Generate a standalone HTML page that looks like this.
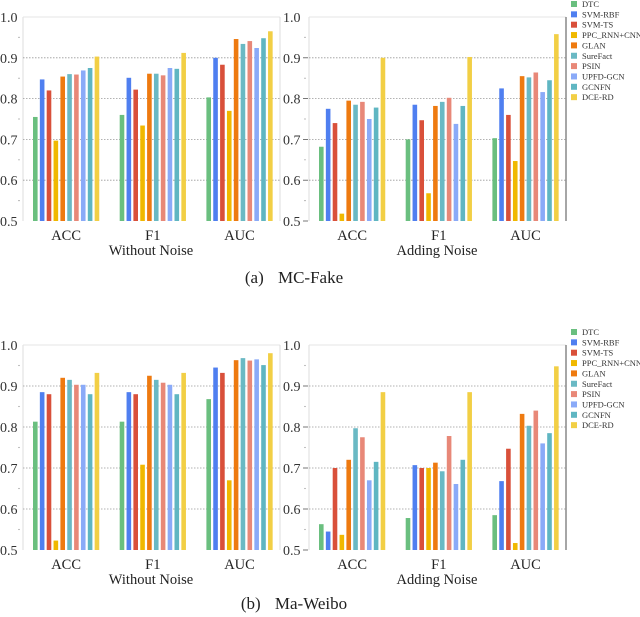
<!DOCTYPE html>
<html><head><meta charset="utf-8"><style>
html,body{margin:0;padding:0;background:#fff;}
svg{display:block;font-family:"Liberation Serif",serif;}
</style></head><body>
<svg id="fig" width="640" height="617" viewBox="0 0 640 617" xmlns="http://www.w3.org/2000/svg">
<text x="294" y="283" text-anchor="middle" font-size="17" word-spacing="10" fill="#222">(a) MC-Fake</text>
<text x="294" y="609" text-anchor="middle" font-size="17" word-spacing="10" fill="#222">(b) Ma-Weibo</text>
</svg>
<script>
const methods = ["DTC","SVM-RBF","SVM-TS","PPC_RNN+CNN","GLAN","SureFact","PSIN","UPFD-GCN","GCNFN","DCE-RD"];
const metrics = ["ACC","F1","AUC"];
const yTicks = ["0.5","0.6","0.7","0.8","0.9","1.0"];
const mcCleanACC = [.755,.847,.820,.697,.854,.860,.859,.869,.875,.903];
const mcCleanF1  = [.760,.851,.822,.734,.861,.861,.857,.875,.873,.912];
const mcCleanAUC = [.803,.900,.883,.770,.946,.934,.941,.924,.948,.965];
const mcNoiseACC = [.682,.775,.740,.518,.795,.785,.792,.750,.778,.900];
const mcNoiseF1  = [.700,.785,.747,.568,.782,.792,.802,.738,.782,.902];
const mcNoiseAUC = [.703,.825,.760,.647,.855,.852,.864,.816,.845,.958];
const wbCleanACC = [.813,.885,.880,.523,.920,.915,.903,.903,.880,.932];
const wbCleanF1  = [.813,.885,.880,.708,.925,.915,.908,.903,.880,.932];
const wbCleanAUC = [.868,.945,.932,.670,.963,.968,.962,.965,.951,.980];
const wbNoiseACC = [.563,.545,.700,.537,.720,.797,.775,.670,.715,.885];
const wbNoiseF1  = [.578,.707,.700,.700,.713,.692,.778,.661,.720,.885];
const wbNoiseAUC = [.585,.668,.747,.517,.832,.803,.840,.760,.785,.948];

const colors = ["#6abf7f","#4f7ff0","#d9503a","#f0b800","#ee7a10","#6ab9c4","#e88878","#8aaaf8","#5fb6c2","#f2cf45"];
const NS = "http://www.w3.org/2000/svg";
const svg = document.getElementById("fig");
function mk(tag, attrs, parent){const e=document.createElementNS(NS,tag);for(const k in attrs)e.setAttribute(k,attrs[k]);(parent||svg).appendChild(e);return e;}

function panel(name, x0, yTop, yBot, series, title, rightAxisDark, leftLabelX, tickDash){
  const g = mk("g",{});
  
  
  const yScale = v => yBot - (v-0.5)/0.5*(yBot-yTop);
  const xEnd = x0 + 257;
  mk("line",{x1:x0,y1:yTop,x2:x0,y2:yBot,stroke:"#ddd","stroke-width":1},g);
  mk("line",{x1:x0,y1:yTop,x2:xEnd,y2:yTop,stroke:"#e4e4e4","stroke-width":1},g);
  mk("line",{x1:xEnd,y1:yTop,x2:xEnd,y2:yBot,stroke:rightAxisDark?"#888":"#ddd","stroke-width":rightAxisDark?1.5:1},g);
  yTicks.forEach((t,i)=>{
    const v = parseFloat(t), y = yScale(v);
    if(i>0 && i<5){ mk("line",{x1:x0,y1:y,x2:xEnd,y2:y,stroke:"#999","stroke-width":0.8,"stroke-dasharray":"1.5,1.5"},g); }
    const tx = mk("text",{x:leftLabelX,y:y+5,"font-size":14,fill:"#333"},g);
    tx.textContent = t;
    
    
    if(tickDash && i<5) mk("line",{x1:x0-6,y1:y,x2:x0-1,y2:y,stroke:"#555","stroke-width":0.8},g);
    if(i<5){ mk("circle",{cx:x0-4,cy:yScale(v+0.05),r:0.6,fill:"#888"},g); }
  });
  const pitch = 86.7, barPitch = 6.85, bw = 4.6;
  metrics.forEach((m,gi)=>{
    const gx = x0 + 10 + gi*pitch;
    series[gi].forEach((v,bi)=>{
      const y = yScale(v);
      const r = mk("rect",{x:gx+bi*barPitch,y:y,width:bw,height:yBot-y,fill:colors[bi]},g);
      
      
    });
    const lab = mk("text",{x:gx+9*barPitch/2+bw/2,y:yBot+19,"text-anchor":"middle","font-size":14.5,fill:"#222"},g);
    lab.textContent = m;
    
    
  });
  const tt = mk("text",{x:x0+128,y:yBot+34,"text-anchor":"middle","font-size":14.5,fill:"#222"},g);
  tt.textContent = title;
  
  
}
function legend(name, yStart){
  const g = mk("g",{});
  
  
  methods.forEach((m,i)=>{
    const y = yStart + i*10.35;
    mk("rect",{x:571,y:y-3,width:6,height:6,fill:colors[i]},g);
    const t = mk("text",{x:582,y:y+3,"font-size":8.5,fill:"#333"},g);
    t.textContent = m;
    
    
  });
}
panel("panel-mcfake-without-noise", 23, 17, 221, [mcCleanACC,mcCleanF1,mcCleanAUC], "Without Noise", false, 0, false);
panel("panel-mcfake-adding-noise", 309, 17, 221, [mcNoiseACC,mcNoiseF1,mcNoiseAUC], "Adding Noise", true, 283, true);
panel("panel-weibo-without-noise", 23, 345, 550, [wbCleanACC,wbCleanF1,wbCleanAUC], "Without Noise", false, 0, false);
panel("panel-weibo-adding-noise", 309, 345, 550, [wbNoiseACC,wbNoiseF1,wbNoiseAUC], "Adding Noise", true, 283, true);
legend("legend-mcfake", 4);
legend("legend-weibo", 332);
</script>
</body></html>
